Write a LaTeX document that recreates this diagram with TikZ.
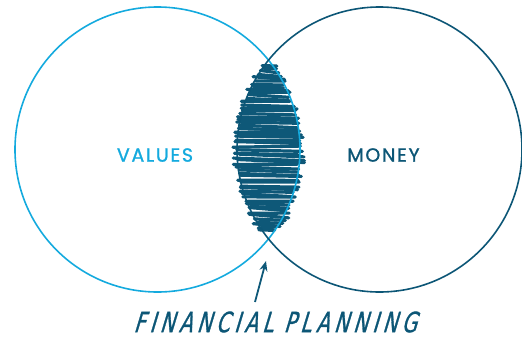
\documentclass[tikz,border=0pt]{standalone}
\usepackage{fontspec}
\usepackage{tikz}
\usepackage{xcolor}
\usetikzlibrary{arrows.meta, positioning}
\definecolor{valblue}{RGB}{20, 170, 222}
\definecolor{moneyblue}{RGB}{12, 86, 118}
\definecolor{scribblue}{RGB}{14, 88, 120}
\newfontfamily\capsfont[LetterSpace=9, FakeBold=1.2]{Poppins}
\newfontfamily\brushfont[FakeSlant=0.3, FakeStretch=0.7, FakeBold=1, LetterSpace=16]{DejaVu Sans}
\tikzset{
  ring/.style={circle, draw, line width=1.6pt, minimum size=285pt, inner sep=0pt},
  caps/.style={font=\capsfont\fontsize{19}{19}\selectfont},
  scribble/.style={scribblue, line width=3.2pt, line cap=round, line join=round}
}

\begin{document}
\begin{tikzpicture}[x=1pt,y=-1pt]
        \useasboundingbox (0,0) rectangle (522,341);
        % scribbled overlap, one stroke per row
        \pgfmathsetseed{11}
        \foreach \yy in {65,68,...,230}{
          \pgfmathsetmacro{\s}{142.5*sqrt(1-((\yy-149.5)/142.5)^2)}
          \pgfmathsetmacro{\xl}{379.5-\s-7*rnd+2}
          \pgfmathsetmacro{\xr}{157.5+\s+7*rnd-2}
          \pgfmathsetmacro{\yl}{\yy+1.5*rand}
          \pgfmathsetmacro{\yr}{\yy+1.5+1.5*rand}
          \draw[scribble] (\xl,\yl) -- (\xr,\yr);
        }
        \node[ring,valblue] (values) at (157.5,149.5) {};
        \node[ring,moneyblue] (money) at (379.5,149.5) {};
        \node[caps,valblue] (valtext) at (155,155) {VALUES};
        \node[caps,moneyblue] (montext) at (383.5,155) {MONEY};
        \node[moneyblue,font=\brushfont\fontsize{28}{28}\selectfont] (plan) at (275,322) {FINANCIAL PLANNING};
        \coordinate (tail) at (255,302);
        \coordinate (tip) at (266,261);
        \draw[scribblue,line width=1.8pt,-{Stealth[length=10pt,width=8pt]}] (tail) -- (tip);
      \end{tikzpicture}
\end{document}
